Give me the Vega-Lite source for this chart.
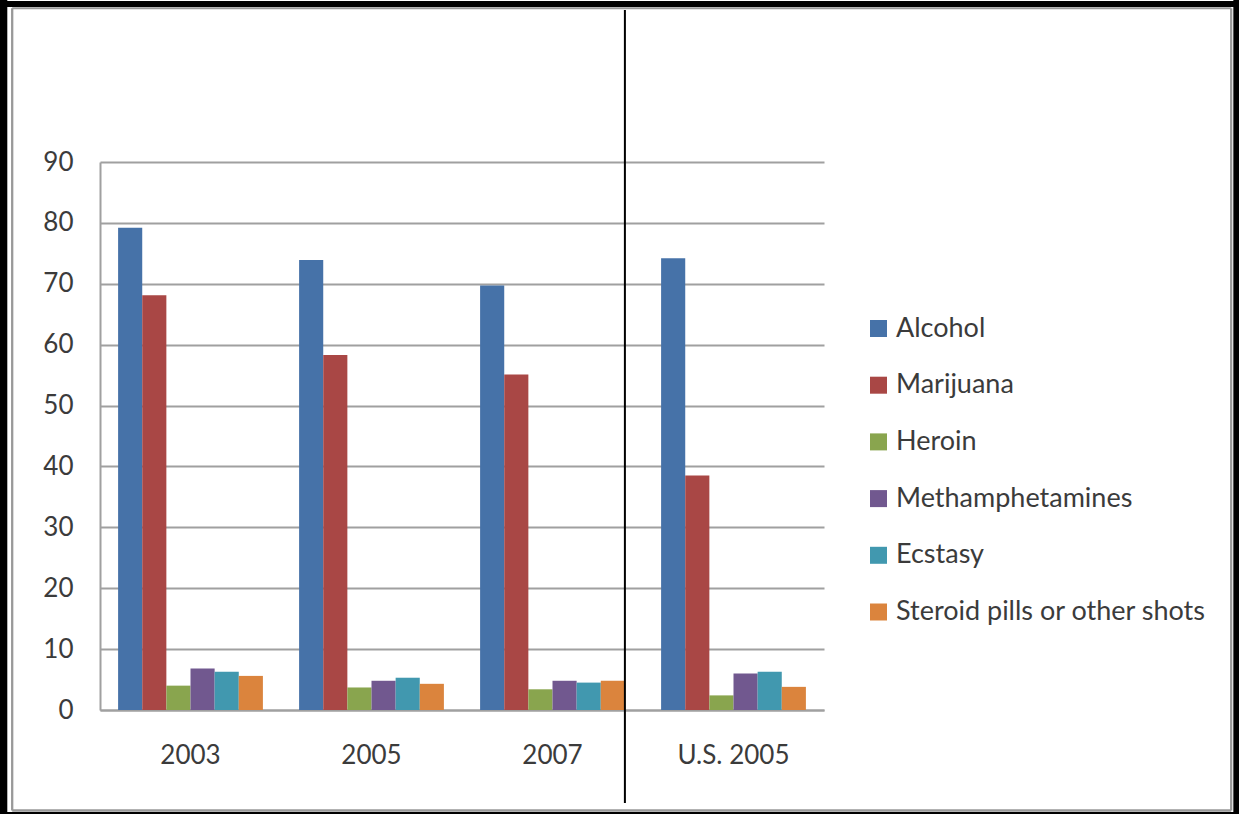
{
  "$schema": "https://vega.github.io/schema/vega-lite/v6.json",
  "width": 724,
  "height": 548,
  "autosize": "none",
  "padding": {"left": 100, "top": 162, "right": 415, "bottom": 104},
  "background": "white",
  "config": {"view": {"stroke": null}, "font": "Lato"},
  "layer": [
    {
      "data": {"values": [
        {"group": "2003", "drug": "Alcohol", "value": 79.2},
        {"group": "2003", "drug": "Marijuana", "value": 68.1},
        {"group": "2003", "drug": "Heroin", "value": 4.0},
        {"group": "2003", "drug": "Methamphetamines", "value": 6.8},
        {"group": "2003", "drug": "Ecstasy", "value": 6.3},
        {"group": "2003", "drug": "Steroid pills or other shots", "value": 5.6},
        {"group": "2005", "drug": "Alcohol", "value": 73.9},
        {"group": "2005", "drug": "Marijuana", "value": 58.3},
        {"group": "2005", "drug": "Heroin", "value": 3.7},
        {"group": "2005", "drug": "Methamphetamines", "value": 4.8},
        {"group": "2005", "drug": "Ecstasy", "value": 5.3},
        {"group": "2005", "drug": "Steroid pills or other shots", "value": 4.3},
        {"group": "2007", "drug": "Alcohol", "value": 69.7},
        {"group": "2007", "drug": "Marijuana", "value": 55.1},
        {"group": "2007", "drug": "Heroin", "value": 3.4},
        {"group": "2007", "drug": "Methamphetamines", "value": 4.8},
        {"group": "2007", "drug": "Ecstasy", "value": 4.5},
        {"group": "2007", "drug": "Steroid pills or other shots", "value": 4.8},
        {"group": "U.S. 2005", "drug": "Alcohol", "value": 74.2},
        {"group": "U.S. 2005", "drug": "Marijuana", "value": 38.5},
        {"group": "U.S. 2005", "drug": "Heroin", "value": 2.4},
        {"group": "U.S. 2005", "drug": "Methamphetamines", "value": 6.0},
        {"group": "U.S. 2005", "drug": "Ecstasy", "value": 6.3},
        {"group": "U.S. 2005", "drug": "Steroid pills or other shots", "value": 3.8}
      ]},
      "mark": {"type": "bar"},
      "encoding": {
        "x": {
          "field": "group", "type": "nominal",
          "sort": ["2003", "2005", "2007", "U.S. 2005"],
          "scale": {"domain": ["2003", "2005", "2007", "U.S. 2005"], "paddingInner": 0.2, "paddingOuter": 0.1},
          "axis": {"title": null, "labelAngle": 0, "ticks": false, "labelPadding": 32, "labelFontSize": 26, "labelColor": "#3b3b3b", "domainColor": "#a0a0a0", "domainWidth": 2, "labelFont": "Lato"}
        },
        "xOffset": {
          "field": "drug", "type": "nominal",
          "sort": ["Alcohol", "Marijuana", "Heroin", "Methamphetamines", "Ecstasy", "Steroid pills or other shots"],
          "scale": {"paddingInner": 0, "paddingOuter": 0}
        },
        "y": {
          "field": "value", "type": "quantitative",
          "scale": {"domain": [0, 90], "nice": false},
          "axis": {"title": null, "values": [0, 10, 20, 30, 40, 50, 60, 70, 80, 90], "ticks": false, "labelPadding": 27, "labelFontSize": 26, "labelColor": "#3b3b3b", "labelFont": "Lato", "domainColor": "#a0a0a0", "domainWidth": 2, "gridColor": "#a0a0a0", "gridWidth": 2}
        },
        "color": {
          "field": "drug", "type": "nominal",
          "sort": ["Alcohol", "Marijuana", "Heroin", "Methamphetamines", "Ecstasy", "Steroid pills or other shots"],
          "scale": {
            "domain": ["Alcohol", "Marijuana", "Heroin", "Methamphetamines", "Ecstasy", "Steroid pills or other shots"],
            "range": ["#4672a8", "#a94745", "#89a54e", "#71588f", "#4198af", "#db843d"]
          },
          "legend": {
            "title": null, "orient": "none", "legendX": 765, "legendY": 153,
            "symbolType": "square", "symbolSize": 289, "symbolStrokeWidth": 0,
            "labelFontSize": 27, "labelFont": "Lato", "labelColor": "#3b3b3b", "labelOffset": 4,
            "rowPadding": 28.7, "labelLimit": 400
          }
        }
      }
    },
    {
      "data": {"values": [{}]},
      "mark": {"type": "rule", "color": "#000000", "strokeWidth": 2},
      "encoding": {
        "x": {"datum": "2007", "bandPosition": 1, "scale": {"domain": ["2003", "2005", "2007", "U.S. 2005"]}},
        "y": {"datum": 114.97, "scale": {"domain": [0, 90], "nice": false}},
        "y2": {"datum": -15.27}
      }
    },
    {
      "data": {"values": [{}]},
      "mark": {"type": "rule", "color": "#000000", "strokeWidth": 7.3},
      "encoding": {
        "x": {"datum": "2003", "bandPosition": -0.7904, "scale": {"domain": ["2003", "2005", "2007", "U.S. 2005"]}},
        "y": {"datum": 116.6, "scale": {"domain": [0, 90], "nice": false}},
        "y2": {"datum": -17.08}
      }
    },
    {
      "data": {"values": [{}]},
      "mark": {"type": "rule", "color": "#000000", "strokeWidth": 5.7},
      "encoding": {
        "x": {"datum": "2003", "bandPosition": 7.7216, "scale": {"domain": ["2003", "2005", "2007", "U.S. 2005"]}},
        "y": {"datum": 116.6, "scale": {"domain": [0, 90], "nice": false}},
        "y2": {"datum": -17.08}
      }
    },
    {
      "data": {"values": [{}]},
      "mark": {"type": "rule", "color": "#000000", "strokeWidth": 6},
      "encoding": {
        "x": {"datum": "2003", "bandPosition": -0.82, "scale": {"domain": ["2003", "2005", "2007", "U.S. 2005"]}},
        "x2": {"datum": "2003", "bandPosition": 7.75},
        "y": {"datum": 115.95, "scale": {"domain": [0, 90], "nice": false}}
      }
    },
    {
      "data": {"values": [{}]},
      "mark": {"type": "rule", "color": "#000000", "strokeWidth": 3},
      "encoding": {
        "x": {"datum": "2003", "bandPosition": -0.82, "scale": {"domain": ["2003", "2005", "2007", "U.S. 2005"]}},
        "x2": {"datum": "2003", "bandPosition": 7.75},
        "y": {"datum": -17.0, "scale": {"domain": [0, 90], "nice": false}}
      }
    },
    {
      "data": {"values": [{}]},
      "mark": {"type": "rule", "color": "#999999", "strokeWidth": 2.3},
      "encoding": {
        "x": {"datum": "2003", "bandPosition": -0.7314, "scale": {"domain": ["2003", "2005", "2007", "U.S. 2005"]}},
        "y": {"datum": 115.25, "scale": {"domain": [0, 90], "nice": false}},
        "y2": {"datum": -16.52}
      }
    },
    {
      "data": {"values": [{}]},
      "mark": {"type": "rule", "color": "#999999", "strokeWidth": 2.3},
      "encoding": {
        "x": {"datum": "2003", "bandPosition": 7.6871, "scale": {"domain": ["2003", "2005", "2007", "U.S. 2005"]}},
        "y": {"datum": 115.25, "scale": {"domain": [0, 90], "nice": false}},
        "y2": {"datum": -16.52}
      }
    },
    {
      "data": {"values": [{}]},
      "mark": {"type": "rule", "color": "#999999", "strokeWidth": 2},
      "encoding": {
        "x": {"datum": "2003", "bandPosition": -0.7314, "scale": {"domain": ["2003", "2005", "2007", "U.S. 2005"]}},
        "x2": {"datum": "2003", "bandPosition": 7.6871},
        "y": {"datum": 115.25, "scale": {"domain": [0, 90], "nice": false}}
      }
    },
    {
      "data": {"values": [{}]},
      "mark": {"type": "rule", "color": "#999999", "strokeWidth": 2.5},
      "encoding": {
        "x": {"datum": "2003", "bandPosition": -0.7314, "scale": {"domain": ["2003", "2005", "2007", "U.S. 2005"]}},
        "x2": {"datum": "2003", "bandPosition": 7.6871},
        "y": {"datum": -16.52, "scale": {"domain": [0, 90], "nice": false}}
      }
    }
  ]
}
